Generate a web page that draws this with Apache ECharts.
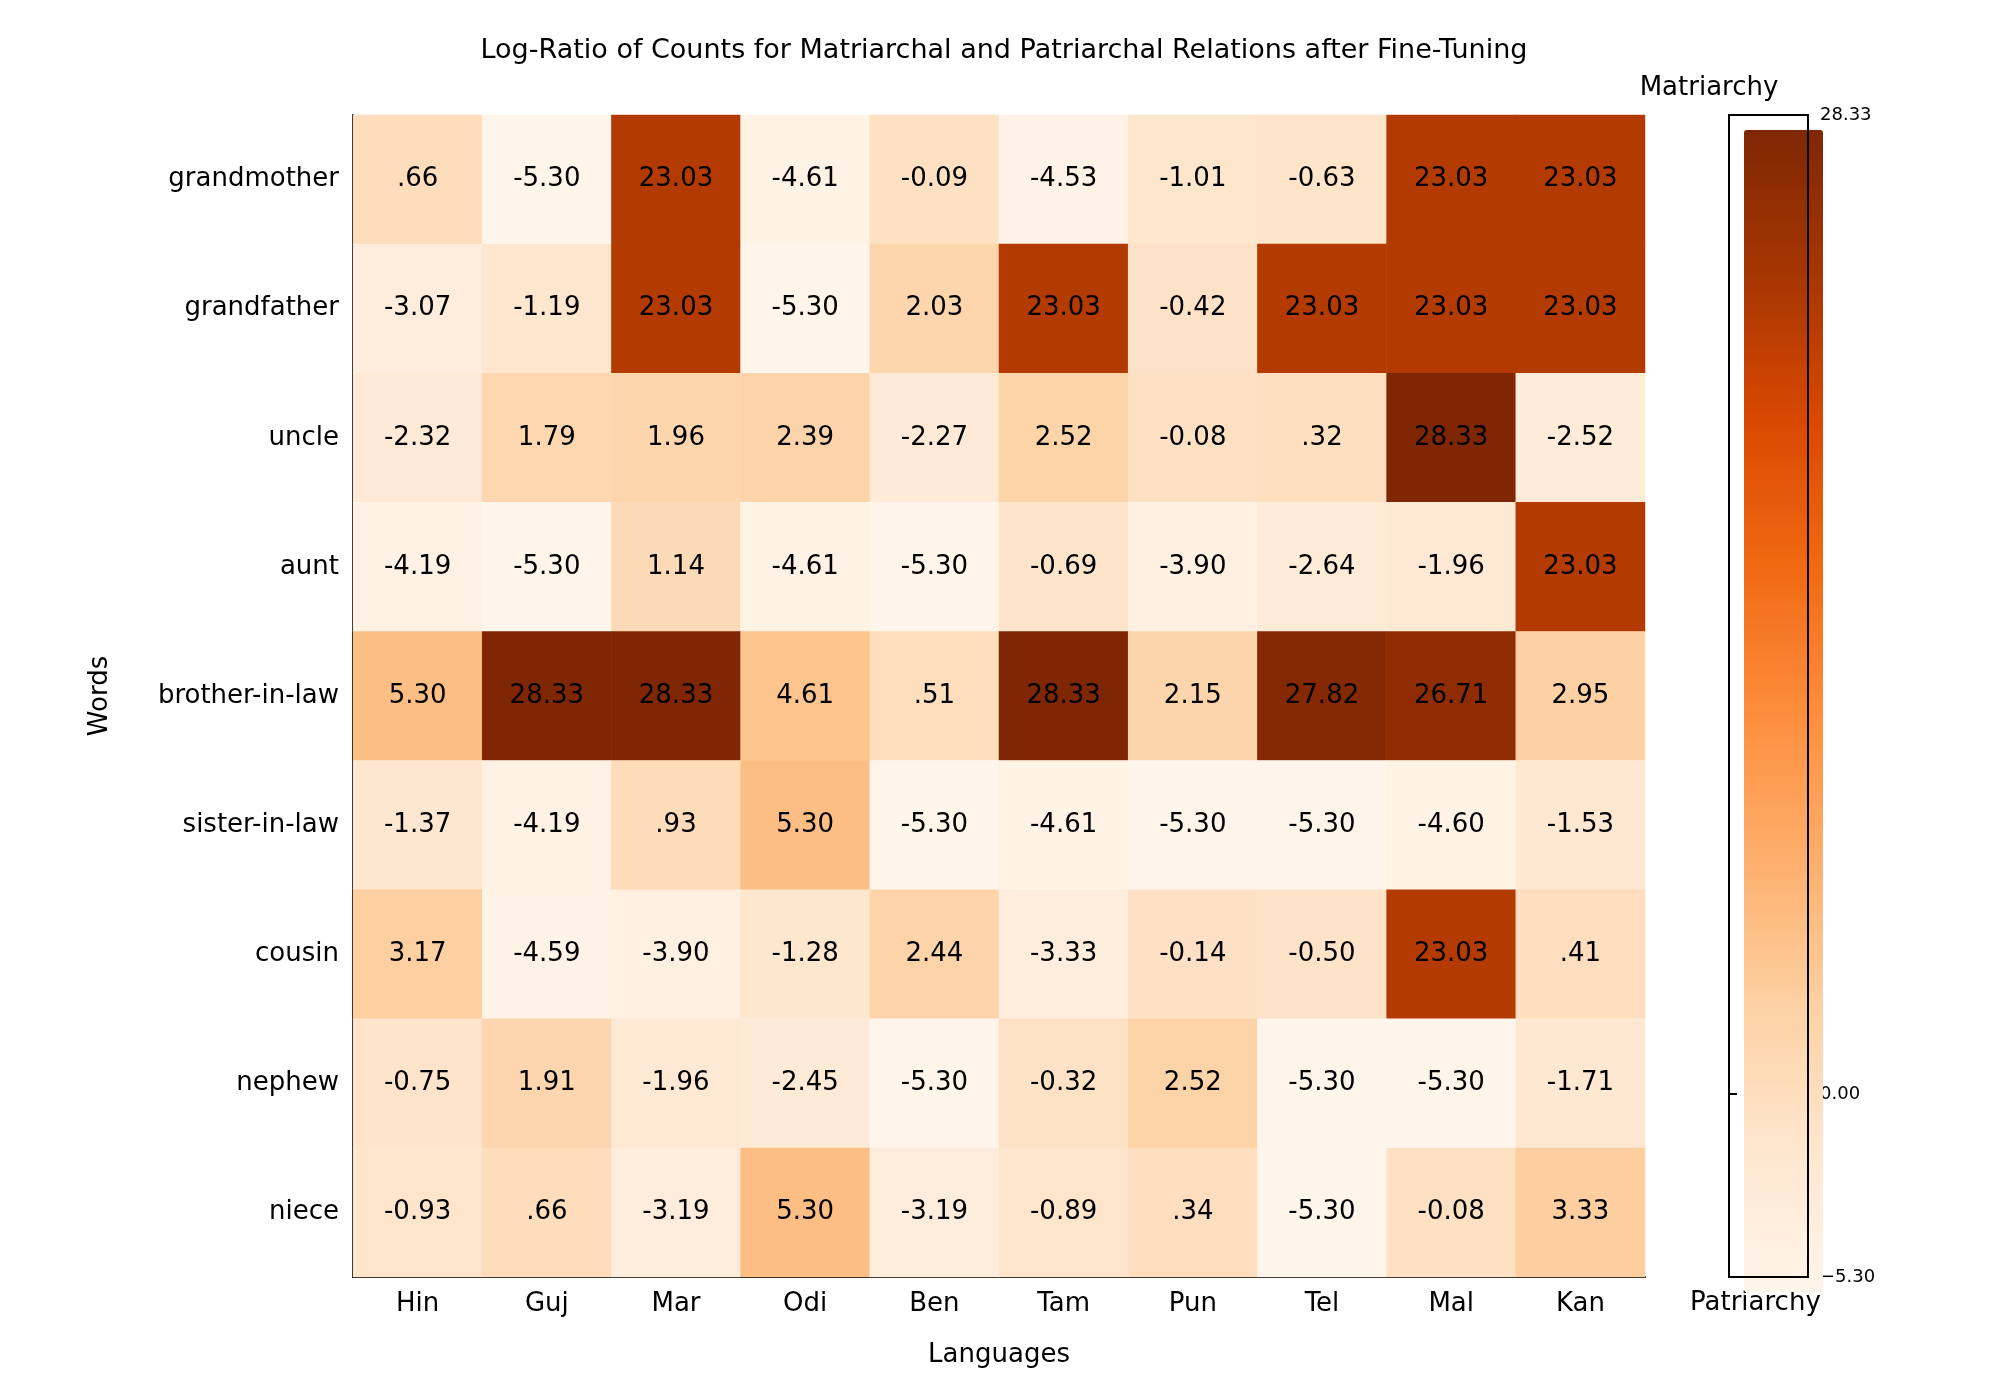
<!DOCTYPE html>
<html>
<head>
<meta charset="utf-8">
<script src="https://cdn.jsdelivr.net/npm/echarts@6/dist/echarts.min.js"></script>
<style>html,body{margin:0;padding:0;background:#fff}#chart{width:2000px;height:1400px}</style>
</head>
<body>
<div id="chart"></div>
<script>
var languages = ["Hin", "Guj", "Mar", "Odi", "Ben", "Tam", "Pun", "Tel", "Mal", "Kan"];
var words = ["grandmother", "grandfather", "uncle", "aunt", "brother-in-law", "sister-in-law", "cousin", "nephew", "niece"];
var grandmother = [0.66, -5.30, 23.03, -4.61, -0.09, -4.53, -1.01, -0.63, 23.03, 23.03];
var grandfather = [-3.07, -1.19, 23.03, -5.30, 2.03, 23.03, -0.42, 23.03, 23.03, 23.03];
var uncle = [-2.32, 1.79, 1.96, 2.39, -2.27, 2.52, -0.08, 0.32, 28.33, -2.52];
var aunt = [-4.19, -5.30, 1.14, -4.61, -5.30, -0.69, -3.90, -2.64, -1.96, 23.03];
var brotherInLaw = [5.30, 28.33, 28.33, 4.61, 0.51, 28.33, 2.15, 27.82, 26.71, 2.95];
var sisterInLaw = [-1.37, -4.19, 0.93, 5.30, -5.30, -4.61, -5.30, -5.30, -4.60, -1.53];
var cousin = [3.17, -4.59, -3.90, -1.28, 2.44, -3.33, -0.14, -0.50, 23.03, 0.41];
var nephew = [-0.75, 1.91, -1.96, -2.45, -5.30, -0.32, 2.52, -5.30, -5.30, -1.71];
var niece = [-0.93, 0.66, -3.19, 5.30, -3.19, -0.89, 0.34, -5.30, -0.08, 3.33];
var colorbarTicks = [-5.30, 0.00, 28.33];

var rows = [grandmother, grandfather, uncle, aunt, brotherInLaw, sisterInLaw, cousin, nephew, niece];
var vmin = -5.30, vmax = 28.33;

var cells = [];
rows.forEach(function (row, r) {
    row.forEach(function (v, c) {
        cells.push([c, r, v]);
    });
});

// matplotlib style: drop the leading zero for small positive values
function fmt(v) {
    var s = v.toFixed(2);
    if (v > 0 && v < 1) s = s.substring(1);
    return s;
}

var FONT = "DejaVu Sans";
var myChart = echarts.init(document.getElementById("chart"));
var option = {
    textStyle: { fontFamily: FONT },
    title: {
        text: "Log-Ratio of Counts for Matriarchal and Patriarchal Relations after Fine-Tuning",
        left: 999, top: 32, textAlign: "center",
        textStyle: { fontFamily: FONT, fontSize: 27, fontWeight: "normal", color: "#000" }
    },
    grid: [
        { left: 353, right: 355, top: 115, bottom: 123 },
        { left: 1729, width: 79, top: 115, height: 1162, show: true, borderColor: "#000", borderWidth: 2, backgroundColor: "transparent", z: 5 }
    ],
    xAxis: [{
        type: "category", data: languages, gridIndex: 0,
        name: "Languages", nameLocation: "middle", nameGap: 65,
        nameTextStyle: { fontFamily: FONT, fontSize: 26, color: "#000" },
        axisLine: { lineStyle: { color: "#000", width: 2 } },
        axisTick: { alignWithLabel: true, length: 8, lineStyle: { color: "#000", width: 2 } },
        axisLabel: { fontFamily: FONT, fontSize: 26, color: "#000", margin: 14 },
        splitLine: { show: false }
    }, {
        type: "value", gridIndex: 1, show: false
    }],
    yAxis: [{
        type: "category", data: words, gridIndex: 0, inverse: true,
        name: "Words", nameLocation: "middle", nameGap: 240, nameRotate: 90,
        nameTextStyle: { fontFamily: FONT, fontSize: 26, color: "#000" },
        axisLine: { lineStyle: { color: "#000", width: 2 } },
        axisTick: { alignWithLabel: true, length: 8, lineStyle: { color: "#000", width: 2 } },
        axisLabel: { fontFamily: FONT, fontSize: 26, color: "#000", margin: 14 },
        splitLine: { show: false }
    }, {
        type: "value", gridIndex: 1, position: "right", min: vmin, max: vmax,
        name: "Matriarchy", nameLocation: "end", nameGap: 14,
        nameTextStyle: { fontFamily: FONT, fontSize: 26, color: "#000", align: "center", padding: [0, 0, 0, -40] },
        axisLine: { show: false },
        axisTick: { show: true, length: 8, customValues: colorbarTicks, lineStyle: { color: "#000", width: 2 } },
        axisLabel: {
            fontFamily: FONT, fontSize: 18, color: "#000", margin: 12, customValues: colorbarTicks,
            formatter: function (v) { return v.toFixed(2).replace("-", "\u2212"); }
        },
        splitLine: { show: false }
    }],
    graphic: [{
        type: "text", left: 1690, top: 1290,
        style: { text: "Patriarchy", font: "26px DejaVu Sans", fill: "#000" }
    }],
    visualMap: {
        type: "continuous", min: vmin, max: vmax, calculable: false,
        seriesIndex: 0, showLabel: false, text: ["", ""],
        itemWidth: 79, itemHeight: 1162, left: 1729, top: 115,
        inRange: { color: ["#fff5eb", "#fee6ce", "#fdd0a2", "#fdae6b", "#fd8d3c", "#f16913", "#d94801", "#a63603", "#7f2704"] }
    },
    series: [{
        type: "heatmap", data: cells, xAxisIndex: 0, yAxisIndex: 0,
        label: {
            show: true, color: "#000", fontFamily: FONT, fontSize: 26,
            formatter: function (p) { return fmt(p.value[2]); }
        },
        emphasis: { disabled: true }
    }]
};
myChart.setOption(option);
</script>
</body>
</html>
